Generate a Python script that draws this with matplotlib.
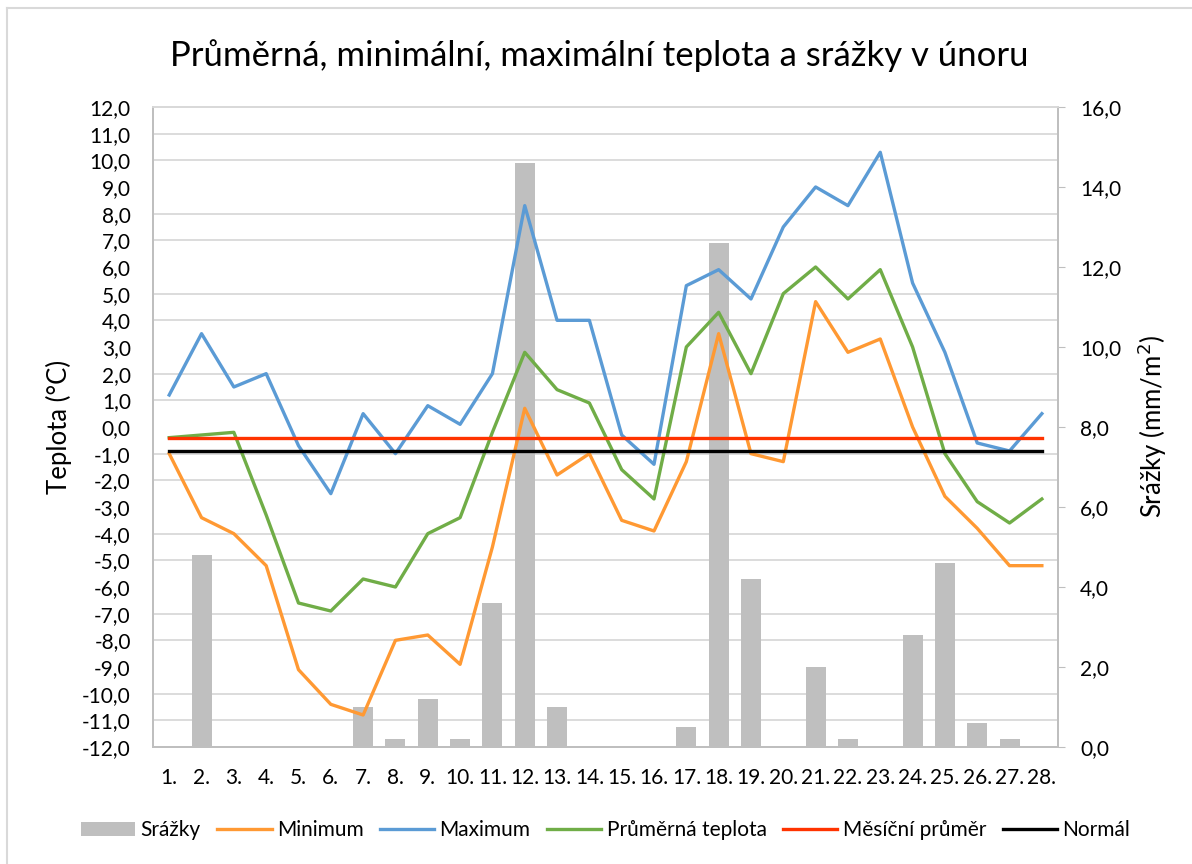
import numpy as np
import matplotlib
matplotlib.use("Agg")
import matplotlib.pyplot as plt
from matplotlib.ticker import FixedLocator, FuncFormatter
from matplotlib.lines import Line2D

plt.rcParams['font.family'] = ['Lato', 'DejaVu Sans']

# Data
days = list(range(1, 29))
day_labels = [f"{d}." for d in days]

srazky = [0, 4.8, 0, 0, 0, 0, 1.0, 0.2, 1.2, 0.2, 3.6, 14.6, 1.0, 0,
          0, 0, 0.5, 12.6, 4.2, 0, 2.0, 0.2, 0, 2.8, 4.6, 0.6, 0.2, 0]
minimum = [-1.0, -3.4, -4.0, -5.2, -9.1, -10.4, -10.8, -8.0, -7.8, -8.9, -4.5, 0.7, -1.8, -1.0,
           -3.5, -3.9, -1.3, 3.5, -1.0, -1.3, 4.7, 2.8, 3.3, 0.0, -2.6, -3.8, -5.2, -5.2]
maximum = [1.2, 3.5, 1.5, 2.0, -0.7, -2.5, 0.5, -1.0, 0.8, 0.1, 2.0, 8.3, 4.0, 4.0,
           -0.3, -1.4, 5.3, 5.9, 4.8, 7.5, 9.0, 8.3, 10.3, 5.4, 2.8, -0.6, -0.9, 0.5]
prumer = [-0.4, -0.3, -0.2, -3.3, -6.6, -6.9, -5.7, -6.0, -4.0, -3.4, -0.2, 2.8, 1.4, 0.9,
          -1.6, -2.7, 3.0, 4.3, 2.0, 5.0, 6.0, 4.8, 5.9, 3.0, -1.0, -2.8, -3.6, -2.7]
mesicni_prumer = [-0.4] * 28
normal = [-0.9] * 28

temp_ticks = np.arange(-12, 13, 1)
rain_ticks = np.arange(0, 17, 2)

grid_col = "#D9D9D9"
axis_col = "#BFBFBF"
comma = FuncFormatter(lambda v, p: f"{v:.1f}".replace(".", ","))

fig = plt.figure(figsize=(11.92, 8.64), dpi=100)
ax = fig.add_axes([0.1284, 0.1354, 0.8876 - 0.1284, 0.8762 - 0.1354])
ax2 = ax.twinx()

# bars sit underneath the temperature lines
ax.set_zorder(ax2.get_zorder() + 1)
ax.patch.set_visible(False)

ax2.bar(days, srazky, width=0.62, color="#BFBFBF", zorder=2, label="Srážky")
ax2.set_ylim(0, 16)
ax2.set_yticks(rain_ticks)
ax2.yaxis.set_major_formatter(comma)
# temperature gridlines drawn on the bar axis so bars cover them
ax2.yaxis.set_minor_locator(FixedLocator((temp_ticks + 12) * 16 / 24))
ax2.grid(which="minor", axis="y", color=grid_col, linewidth=1.3, zorder=0)
ax2.set_axisbelow(True)
ax2.tick_params(axis="y", which="major", length=5, color=axis_col, labelsize=15, pad=11)
ax2.tick_params(axis="y", which="minor", length=0)

ax.plot(days, minimum, color="#FF9933", lw=2.4, label="Minimum")
ax.plot(days, maximum, color="#5B9BD5", lw=2.4, label="Maximum")
ax.plot(days, prumer, color="#70AD47", lw=2.4, label="Průměrná teplota")
ax.plot(days, mesicni_prumer, color="#FF3300", lw=2.4, label="Měsíční průměr")
ax.plot(days, normal, color="#000000", lw=2.4, label="Normál")

ax.set_ylim(-12, 12)
ax.set_yticks(temp_ticks)
ax.yaxis.set_major_formatter(comma)
ax.set_xlim(0.5, 28.5)
ax.set_xticks(days)
ax.set_xticklabels(day_labels)
ax.xaxis.set_minor_locator(FixedLocator(np.arange(1.5, 28, 1)))
ax2.grid(which="minor", axis="x", color=grid_col, linewidth=1.3, zorder=0)
ax.tick_params(axis="y", length=0, labelsize=15, pad=16)
ax.tick_params(axis="x", which="both", length=0, labelsize=15, pad=15)

for a in (ax, ax2):
    for s in a.spines.values():
        s.set_color(axis_col)
        s.set_linewidth(1.3)
    a.spines["top"].set_color(grid_col)

ax.set_ylabel("Teplota (°C)", fontsize=18.5, labelpad=7)
ax2.set_ylabel("Srážky (mm/m$^2$)", fontsize=18.5, labelpad=10)

fig.text(0.503, 0.936, "Průměrná, minimální, maximální teplota a srážky v únoru",
         ha="center", va="center", fontsize=25)

h1, l1 = ax2.get_legend_handles_labels()
h2, l2 = ax.get_legend_handles_labels()
fig.legend(h1 + h2, l1 + l2, loc="center", bbox_to_anchor=(0.508, 0.039), ncol=6,
           frameon=False, fontsize=15, handlelength=2.6, handletextpad=0.25,
           columnspacing=0.8)

# chart area border
fig.add_artist(Line2D([0.006, 1.0], [1 - 8 / 864, 1 - 8 / 864], color=grid_col, lw=1.5))
fig.add_artist(Line2D([0.006, 0.006], [0.0, 1 - 8 / 864], color=grid_col, lw=1.5))

fig.savefig("out.png", dpi=100)
